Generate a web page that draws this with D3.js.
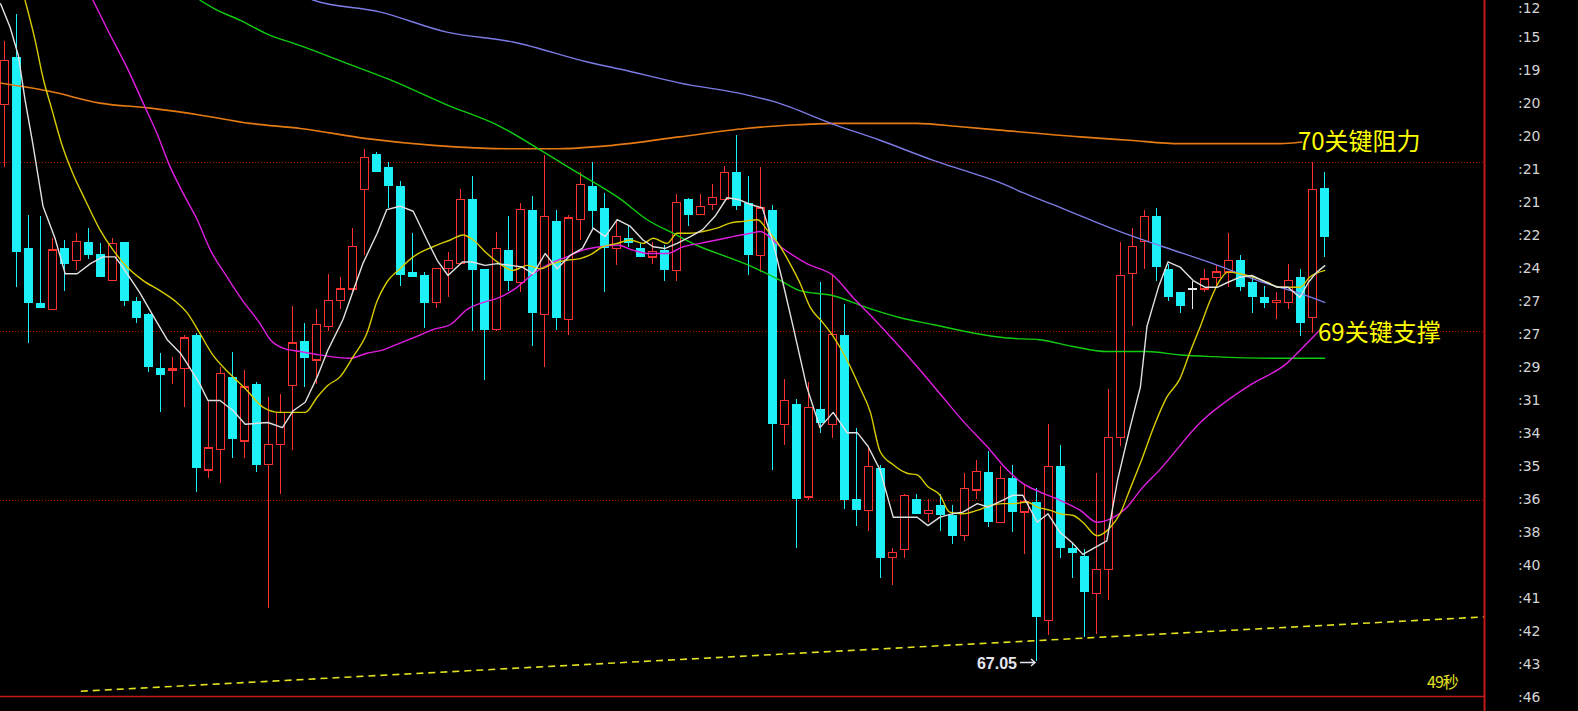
<!DOCTYPE html>
<html><head><meta charset="utf-8">
<script src="https://cdn.jsdelivr.net/npm/d3@7/dist/d3.min.js"></script>
<style>html,body{margin:0;padding:0;background:#000;overflow:hidden}svg{display:block}</style>
</head><body>
<svg id="chart" width="1578" height="711"></svg>
<script>
// ---------- data (prices) ----------
const opens = [70.34,70.62,69.49,69.17,69.13,69.49,69.42,69.53,69.46,69.30,
69.53,69.18,69.10,68.78,68.77,68.78,68.98,68.18,68.30,68.73,
68.35,68.69,68.21,68.33,68.68,68.94,68.83,69.03,69.18,69.25,
69.84,70.05,69.97,69.86,69.35,69.33,69.17,69.37,69.40,69.78,
69.37,69.01,69.48,69.29,69.72,69.10,69.65,69.07,69.66,69.86,
69.73,69.49,69.55,69.49,69.44,69.48,69.36,69.78,69.69,69.75,
69.78,69.94,69.76,69.45,69.72,68.45,68.57,68.02,68.54,68.45,
68.98,68.01,67.94,68.19,67.66,67.71,68.01,67.92,67.97,67.91,
67.79,68.06,68.17,67.87,68.13,67.93,67.99,67.29,68.20,67.72,
67.67,67.45,67.59,68.37,69.34,69.53,69.68,69.37,69.23,69.25,
69.25,69.32,69.35,69.42,69.29,69.20,69.17,69.17,69.32,69.08,
69.85];
const highs = [70.72,70.88,69.69,69.68,69.55,69.54,69.58,69.61,69.52,69.55,
69.53,69.20,69.11,68.87,68.85,68.98,68.99,68.59,68.79,68.88,
68.77,68.70,68.61,68.63,69.15,69.05,69.13,69.34,69.32,69.61,
70.08,70.06,70.00,69.89,69.58,69.35,69.37,69.47,69.84,69.92,
69.37,69.59,69.68,69.76,69.80,70.04,69.72,69.69,69.94,70.00,
69.82,69.65,69.62,69.52,69.53,69.51,69.81,69.79,69.81,69.87,
69.98,70.16,69.92,69.97,69.75,68.72,68.60,68.70,69.29,69.33,
69.16,68.43,68.31,68.21,67.72,68.04,68.04,68.01,68.04,67.97,
68.16,68.24,68.29,68.20,68.21,68.09,68.07,68.45,68.33,67.75,
67.71,68.16,68.66,69.53,69.61,69.72,69.73,69.40,69.23,69.30,
69.37,69.39,69.58,69.45,69.32,69.27,69.23,69.40,69.37,70.00,
69.94];
const lows = [69.97,69.26,68.93,69.14,69.13,69.24,69.36,69.43,69.32,69.30,
69.15,69.05,68.76,68.52,68.69,68.55,68.05,68.13,68.10,68.25,
68.25,68.17,67.36,68.04,68.30,68.67,68.69,69.00,69.13,69.24,
69.45,69.94,69.73,69.27,69.32,69.02,69.14,69.20,69.40,69.00,
68.71,69.00,69.24,69.23,68.91,68.79,69.01,68.98,69.54,69.61,
69.23,69.39,69.50,69.44,69.40,69.30,69.30,69.62,69.69,69.72,
69.78,69.72,69.33,69.35,68.18,68.33,67.72,68.00,68.40,68.37,
67.95,67.85,67.82,67.54,67.50,67.66,67.92,67.87,67.82,67.74,
67.76,68.01,67.84,67.87,67.81,67.68,67.05,67.20,67.66,67.54,
67.19,67.21,67.41,68.32,69.03,69.37,69.30,69.18,69.11,69.13,
69.23,69.26,69.26,69.24,69.11,69.14,69.07,69.13,68.97,68.99,
69.44];
const closes = [70.60,69.47,69.17,69.14,69.48,69.40,69.53,69.45,69.32,69.52,
69.18,69.08,68.79,68.74,68.78,68.96,68.19,68.31,68.75,68.36,
68.67,68.21,68.33,68.52,68.93,68.84,69.04,69.18,69.25,69.50,
70.03,69.94,69.86,69.33,69.32,69.17,69.37,69.42,69.78,69.36,
69.01,69.49,69.30,69.72,69.11,69.68,69.08,69.67,69.87,69.71,
69.49,69.56,69.52,69.44,69.47,69.36,69.76,69.69,69.74,69.79,
69.94,69.74,69.45,69.73,68.45,68.59,68.01,68.55,68.46,68.98,
68.00,67.94,68.20,67.66,67.69,68.03,67.92,67.94,67.91,67.79,
68.07,68.17,67.87,68.13,67.93,67.99,67.31,68.20,67.72,67.69,
67.46,67.59,68.37,69.33,69.50,69.68,69.38,69.20,69.15,69.25,
69.31,69.35,69.42,69.26,69.20,69.17,69.18,69.30,69.05,69.84,
69.56];

// moving-average lines: [bar index, price]
const maWhite = [[-0.3,70.94],[0.5,70.80],[1.2,70.63],[1.75,70.37],[2.4,70.11],[3.25,69.74],[4.25,69.55],[5.1,69.34],[6.1,69.34],[7.2,69.40],
[8.25,69.44],[9.25,69.44],[9.9,69.38],[11.3,69.23],[12.6,69.07],[13.6,68.95],[14.7,68.87],[15.25,68.81],[16.3,68.69],[17,68.59],
[18,68.59],[19.1,68.53],[20.1,68.45],[22,68.46],[23.2,68.43],[24.1,68.53],[25.1,68.58],[26.1,68.73],[27,68.89],[28.25,69.07],
[29.1,69.24],[29.9,69.40],[31.1,69.58],[31.9,69.72],[33,69.74],[34.1,69.71],[35.25,69.54],[36.1,69.42],[37,69.33],[38.2,69.41],
[39,69.41],[40.1,69.39],[41.1,69.40],[42.2,69.39],[43.2,69.38],[44.1,69.34],[45.1,69.46],[46.1,69.37],[47.2,69.45],[48.2,69.49],
[49.1,69.61],[50.1,69.56],[51.1,69.66],[52.2,69.62],[53.25,69.54],[54.1,69.50],[55.1,69.49],[56.1,69.52],[57.2,69.56],[58.2,69.60],
[59.25,69.68],[60.25,69.79],[61.2,69.78],[62.2,69.75],[63.2,69.73],[64.1,69.52],[64.9,69.29],[65.75,69.03],[66.9,68.67],[68,68.43],
[69.1,68.52],[70.25,68.40],[71.1,68.40],[72,68.32],[73,68.18],[74.1,67.90],[75.25,67.90],[76.1,67.90],[77,67.85],[78,67.90],
[79,67.92],[79.9,67.93],[81.1,67.98],[82,67.96],[83.2,68.00],[84.1,68.03],[84.9,68.03],[86.1,67.87],[87,67.92],[88,67.81],
[89,67.75],[89.9,67.68],[90.9,67.72],[91.9,67.76],[92.8,68.12],[93.8,68.42],[94.7,68.67],[95.25,69.03],[96.2,69.26],[97,69.41],
[98,69.38],[99.1,69.30],[100.1,69.26],[101.1,69.26],[102,69.29],[103,69.32],[104,69.33],[104.9,69.30],[106.1,69.26],[107,69.26],
[108,69.20],[108.7,69.29],[109.4,69.35],[110.1,69.39]];
const maYellow = [[1.75,70.96],[2.6,70.72],[3.25,70.50],[4,70.31],[4.8,70.11],[5.7,69.94],[6.75,69.78],[8,69.60],[9.1,69.48],[10.25,69.38],
[11.6,69.30],[13,69.24],[14.4,69.17],[15.25,69.11],[16.3,68.99],[17.4,68.86],[18.8,68.75],[20.25,68.65],[21.6,68.55],[23,68.52],
[25.1,68.52],[26.1,68.61],[27,68.68],[28,68.73],[29.1,68.85],[30.25,68.99],[31.1,69.18],[31.9,69.29],[33,69.37],[34.1,69.44],
[35.75,69.50],[37.2,69.54],[38.25,69.57],[39.1,69.54],[40.25,69.46],[41.3,69.40],[42.4,69.36],[43.6,69.39],[44.7,69.37],[45.75,69.40],
[46.9,69.42],[48,69.43],[48.8,69.45],[49.9,69.50],[51.1,69.52],[52.2,69.54],[53.25,69.52],[54.1,69.55],[55.25,69.52],[56.1,69.58],
[57.2,69.58],[58.25,69.59],[59.4,69.61],[60.5,69.64],[61.6,69.65],[62.8,69.66],[63.6,69.60],[64.7,69.50],[65.5,69.40],[66.3,69.29],
[67.2,69.14],[68.25,69.05],[69.1,68.97],[70.25,68.83],[71.3,68.67],[72.2,68.52],[73,68.29],[74.1,68.21],[75.25,68.16],[76.1,68.15],
[77,68.08],[78,68.03],[78.8,67.93],[79.9,67.92],[81.1,67.94],[82.2,67.97],[83.25,67.98],[84.1,67.98],[85.25,67.99],[86.1,67.96],
[87.2,67.94],[88,67.92],[89.1,67.91],[89.9,67.87],[91.1,67.79],[92.2,67.84],[93,67.92],[93.8,68.06],[94.7,68.22],[95.9,68.45],
[96.9,68.61],[98,68.72],[98.8,68.87],[99.7,69.03],[100.5,69.18],[101.3,69.30],[102,69.35],[103,69.34],[104.1,69.32],[105.25,69.29],
[106.3,69.26],[108,69.26],[108.8,69.32],[110.1,69.36]];
const maMagenta = [[7.4,70.96],[8.8,70.76],[10.25,70.56],[11.6,70.35],[12.75,70.17],[13.8,69.98],[14.9,69.82],[16.1,69.66],[17.2,69.48],[18.6,69.32],
[19.9,69.18],[21.3,69.05],[22.2,68.95],[23.25,68.90],[24.7,68.88],[26.3,68.86],[28.8,68.84],[30.25,68.87],[31.6,68.89],[33,68.93],
[34.4,68.97],[35.75,69.01],[37.2,69.04],[38.6,69.13],[39.9,69.17],[41.3,69.20],[42.75,69.26],[44.1,69.34],[45.5,69.40],[46.9,69.44],
[48.25,69.48],[49.7,69.50],[51.1,69.51],[52.4,69.48],[53.8,69.46],[55.25,69.46],[56.6,69.50],[58,69.52],[59.4,69.54],[60.75,69.56],
[62.2,69.58],[63,69.59],[64.7,69.50],[66.9,69.40],[69.1,69.33],[70.75,69.20],[72.4,69.08],[74.1,68.95],[76.1,68.79],[78,68.63],
[79.9,68.47],[81.9,68.32],[83.6,68.18],[84.9,68.10],[86.3,68.05],[88,68.00],[89.7,67.94],[91.1,67.87],[92.2,67.89],[93.6,67.96],
[94.7,68.06],[96.3,68.18],[99.7,68.46],[103.8,68.68],[106.9,68.81],[108.6,68.93],[109.7,69.01]];
const maGreen = [[16.3,70.96],[17.75,70.90],[19.7,70.84],[21.9,70.76],[24.7,70.69],[28.4,70.59],[32.1,70.49],[36.9,70.34],[41.4,70.21],[44.75,70.07],
[47.75,69.94],[51.4,69.78],[53.6,69.66],[55.75,69.58],[58,69.50],[60.25,69.44],[62.4,69.38],[64.7,69.30],[66.3,69.24],[69.1,69.21],
[71.9,69.14],[74.7,69.08],[77.4,69.04],[80.75,68.99],[83.6,68.96],[86.3,68.95],[89.1,68.91],[91.9,68.88],[95.25,68.88],[98,68.86],
[100.75,68.85],[106.3,68.84],[110.1,68.84]];
const maBlue = [[24.5,71.00],[25.75,70.96],[31.3,70.89],[36.9,70.77],[42.5,70.71],[48.8,70.59],[51.4,70.55],[56.25,70.47],[61.8,70.40],[64.1,70.36],
[69.3,70.22],[73,70.13],[77.5,70.01],[80.5,69.94],[83,69.88],[84.9,69.82],[87.75,69.74],[90.5,69.66],[93,69.59],[96.6,69.50],
[100.75,69.40],[104.9,69.29],[107.75,69.23],[110.1,69.17]];
const maOrange = [[-0.4,70.47],[3.8,70.42],[8,70.35],[12.2,70.32],[16.3,70.28],[20.5,70.23],[24.7,70.20],[30.25,70.14],[35.8,70.10],[42.2,70.08],
[46.25,70.08],[50.7,70.10],[56.25,70.15],[61.8,70.20],[65.6,70.22],[69.3,70.23],[76,70.23],[79.75,70.21],[83,70.19],[89.7,70.15],
[93.8,70.13],[98,70.11],[102.2,70.11],[106.3,70.11],[108.2,70.12]];
const trendLine = [[6.4,66.87],[123.33,67.31]];
const keyLevels = [70, 69, 68];
const axisLabels = [":12",":15",":19",":20",":20",":21",":21",":22",":24",":27",":27",
":29",":31",":34",":35",":36",":38",":40",":41",":42",":43",":46"];
const resistanceText = "70关键阻力";
const supportText = "69关键支撑";
const timerText = "49秒";

// ---------- drawing ----------
const svg = d3.select("#chart");
const plotRight = 1484, plotBottom = 696;
const x = d3.scaleLinear().domain([0, 110]).range([4, 1324]);
const y = d3.scaleLinear().domain([66.842, 70.96]).range([plotBottom, 0]);

svg.append("rect").attr("width",1578).attr("height",711).attr("fill","#000");
svg.append("defs").append("clipPath").attr("id","plot")
  .append("rect").attr("x",0).attr("y",0).attr("width",plotRight).attr("height",plotBottom);
const g = svg.append("g").attr("clip-path","url(#plot)");

// dotted key levels
g.selectAll("line.level").data(keyLevels).enter().append("line")
  .attr("x1",0).attr("x2",plotRight)
  .attr("y1",d=>Math.round(y(d))+0.5).attr("y2",d=>Math.round(y(d))+0.5)
  .attr("stroke","#b40000").attr("stroke-width",1).attr("stroke-dasharray","1,2");

// trend line (dashed yellow)
g.append("path").datum(trendLine)
  .attr("d", d3.line().x(d=>x(d[0])).y(d=>y(d[1])))
  .attr("fill","none").attr("stroke","#e2e21e").attr("stroke-width",1.6)
  .attr("stroke-dasharray","7,5");

// candles
const bars = d3.range(opens.length).map(i=>({i,o:opens[i],h:highs[i],l:lows[i],c:closes[i]}));
const RED = "#ff3030", CYAN = "#1ef0f8", DOJI = "#e8e8e8";
const cg = g.append("g").attr("shape-rendering","crispEdges");
bars.forEach(b=>{
  const cx = Math.round(x(b.i));
  const yTop = y(Math.max(b.o,b.c)), yBot = y(Math.min(b.o,b.c));
  const col = b.c > b.o ? RED : (b.c < b.o ? CYAN : DOJI);
  if (b.c > b.o) {
    cg.append("line").attr("x1",cx+0.5).attr("x2",cx+0.5).attr("y1",y(b.h)).attr("y2",yTop).attr("stroke",col);
    cg.append("line").attr("x1",cx+0.5).attr("x2",cx+0.5).attr("y1",yBot).attr("y2",y(b.l)).attr("stroke",col);
    cg.append("rect").attr("x",cx-3.5).attr("y",yTop).attr("width",8)
      .attr("height",Math.max(1,yBot-yTop)).attr("fill","#000").attr("stroke",col).attr("stroke-width",1.3);
  } else if (b.c < b.o) {
    cg.append("line").attr("x1",cx+0.5).attr("x2",cx+0.5).attr("y1",y(b.h)).attr("y2",y(b.l)).attr("stroke",col);
    cg.append("rect").attr("x",cx-4).attr("y",yTop).attr("width",9)
      .attr("height",Math.max(1.5,yBot-yTop)).attr("fill",col);
  } else {
    cg.append("line").attr("x1",cx+0.5).attr("x2",cx+0.5).attr("y1",y(b.h)).attr("y2",y(b.l)).attr("stroke",col).attr("stroke-width",1.5);
    cg.append("line").attr("x1",cx-4).attr("x2",cx+5).attr("y1",yTop).attr("y2",yTop).attr("stroke",col).attr("stroke-width",1.5);
  }
});

// moving averages
const mkLine = curve => d3.line().x(d=>x(d[0])).y(d=>y(d[1])).curve(curve);
const maDefs = [
  [maOrange, "#e57a12", d3.curveMonotoneX, 1.6],
  [maBlue, "#7c7ce6", d3.curveMonotoneX, 1.4],
  [maGreen, "#10cc10", d3.curveMonotoneX, 1.4],
  [maMagenta, "#e01ee0", d3.curveMonotoneX, 1.4],
  [maYellow, "#d8cc00", d3.curveMonotoneX, 1.4],
  [maWhite, "#e0e0e0", d3.curveLinear, 1.4]
];
maDefs.forEach(([pts,col,curve,w])=>{
  g.append("path").datum(pts).attr("d",mkLine(curve)(pts))
    .attr("fill","none").attr("stroke",col).attr("stroke-width",w).attr("stroke-linejoin","round");
});

// annotations
svg.append("text").attr("x",x(107.83)).attr("y",y(70)-12)
  .attr("font-family","'Noto Sans CJK SC', sans-serif").attr("font-size",24)
  .attr("fill","#ffff00").text(resistanceText);
svg.append("text").attr("x",x(109.5)).attr("y",y(69)+10)
  .attr("font-family","'Noto Sans CJK SC', sans-serif").attr("font-size",24)
  .attr("fill","#ffff00").text(supportText);

const minLow = d3.min(lows);
const minIdx = lows.indexOf(minLow);
const ax = Math.round(x(minIdx)), ay = Math.round(y(minLow)) + 1.5;
svg.append("text").attr("x",ax-19).attr("y",ay+6)
  .attr("text-anchor","end").attr("font-family","'Liberation Sans', Arial, sans-serif")
  .attr("font-weight","bold").attr("font-size",16).attr("fill","#e6e6f0")
  .text(d3.format(".2f")(minLow));
svg.append("path")
  .attr("d",`M${ax-16},${ay}H${ax-1}M${ax-5},${ay-3.5}L${ax-1},${ay}L${ax-5},${ay+3.5}`)
  .attr("fill","none").attr("stroke","#e6e6f0").attr("stroke-width",1.4);

svg.append("text").attr("x",1427).attr("y",688)
  .attr("font-family","'Noto Sans CJK SC', sans-serif").attr("font-size",16)
  .attr("letter-spacing","-1").attr("fill","#e0e020").text(timerText);

// frame
svg.append("line").attr("x1",0).attr("x2",plotRight).attr("y1",plotBottom+0.5).attr("y2",plotBottom+0.5)
  .attr("stroke","#c41818").attr("stroke-width",1.5);
svg.append("line").attr("x1",plotRight+0.5).attr("x2",plotRight+0.5).attr("y1",0).attr("y2",711)
  .attr("stroke","#c41818").attr("stroke-width",2);

// right axis labels
const ly = d3.scalePoint().domain(d3.range(axisLabels.length)).range([4, 697]);
svg.selectAll("text.tick").data(axisLabels).enter().append("text")
  .attr("class","tick").attr("x",1518).attr("y",(d,i)=>Math.max(8, ly(i)))
  .attr("dy","0.36em").attr("font-family","'DejaVu Sans', sans-serif").attr("font-size",14)
  .attr("fill","#d4d4d4").text(d=>d);
</script>
</body></html>
